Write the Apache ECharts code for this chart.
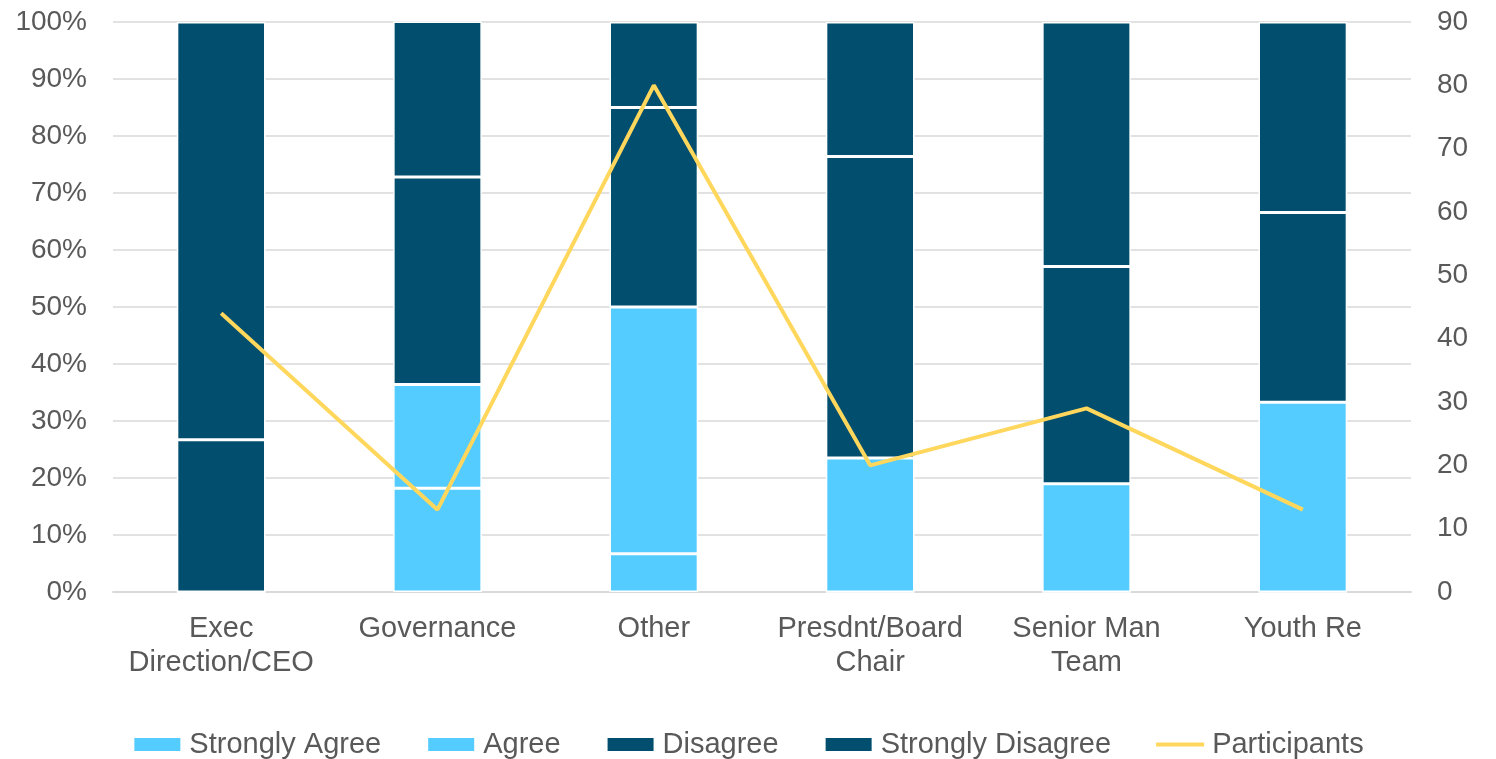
<!DOCTYPE html>
<html>
<head>
    <meta charset="utf-8">
    <title>Survey chart</title>
    <script src="https://cdn.jsdelivr.net/npm/echarts@6/dist/echarts.min.js"></script>
    <style>
        html, body { margin: 0; padding: 0; background: #fff; }
        #main { width: 1496px; height: 759px; }
    </style>
</head>
<body>
    <div id="main"></div>
    <script>
        // categories and values (percent of respondents, participants count)
        var categories = ['Exec\nDirection/CEO', 'Governance', 'Other', 'Presdnt/Board\nChair', 'Senior Man\nTeam', 'Youth Re'];
        var stronglyAgree = [0, 18.2, 6.7, 0, 0, 0];
        var agree = [0, 18.2, 43.3, 23.5, 19.0, 33.3];
        var disagree = [26.7, 36.4, 35.0, 52.9, 38.1, 33.3];
        var stronglyDisagree = [73.3, 27.3, 15.0, 23.6, 42.9, 33.4];
        var participants = [44, 13, 80, 20, 29, 13];

        var lightBlue = '#55CCFF';
        var darkBlue = '#024E6E';
        var lineColor = '#FFD75C';
        var textColor = '#595959';
        var font = '"Liberation Sans", Arial, sans-serif';

        function barSeries(name, data, color) {
            return {
                name: name,
                type: 'bar',
                stack: 'total',
                barWidth: '41%',
                data: data,
                itemStyle: { color: color, borderColor: '#fff', borderWidth: 1.5 }
            };
        }

        var chart = echarts.init(document.getElementById('main'));
        chart.setOption({
            animation: false,
            textStyle: { fontFamily: font, color: textColor },
            grid: { left: 113, right: 85, top: 22, bottom: 167 },
            legend: {
                top: 725,
                left: 'center',
                itemWidth: 48,
                itemHeight: 15,
                itemGap: 45,
                textStyle: { fontSize: 29, color: textColor, fontFamily: font, padding: [0, 0, 0, 3] },
                data: [
                    { name: 'Strongly Agree', icon: 'rect' },
                    { name: 'Agree', icon: 'rect' },
                    { name: 'Disagree', icon: 'rect' },
                    { name: 'Strongly Disagree', icon: 'rect' },
                    { name: 'Participants', icon: 'path://M0,0 L48,0 L48,4 L0,4 Z', itemStyle: { color: lineColor } }
                ]
            },
            xAxis: {
                type: 'category',
                data: categories,
                axisTick: { show: false },
                axisLine: { lineStyle: { color: '#d9d9d9', width: 2 } },
                axisLabel: {
                    interval: 0,
                    margin: 20,
                    fontSize: 29,
                    lineHeight: 34,
                    color: textColor,
                    fontFamily: font
                }
            },
            yAxis: [{
                type: 'value',
                min: 0,
                max: 100,
                interval: 10,
                position: 'left',
                axisLine: { show: false },
                axisTick: { show: false },
                axisLabel: { formatter: '{value}%', fontSize: 28, margin: 26, color: textColor, fontFamily: font },
                splitLine: { lineStyle: { color: '#d9d9d9', width: 1.5 } }
            }, {
                type: 'value',
                min: 0,
                max: 90,
                interval: 10,
                position: 'right',
                axisLine: { show: false },
                axisTick: { show: false },
                axisLabel: { fontSize: 28, margin: 26, color: textColor, fontFamily: font },
                splitLine: { show: false }
            }],
            series: [
                barSeries('Strongly Agree', stronglyAgree, lightBlue),
                barSeries('Agree', agree, lightBlue),
                barSeries('Disagree', disagree, darkBlue),
                barSeries('Strongly Disagree', stronglyDisagree, darkBlue),
                {
                    name: 'Participants',
                    type: 'line',
                    yAxisIndex: 1,
                    data: participants,
                    symbol: 'none',
                    lineStyle: { color: lineColor, width: 4 },
                    itemStyle: { color: lineColor }
                }
            ]
        });
    </script>
</body>
</html>
